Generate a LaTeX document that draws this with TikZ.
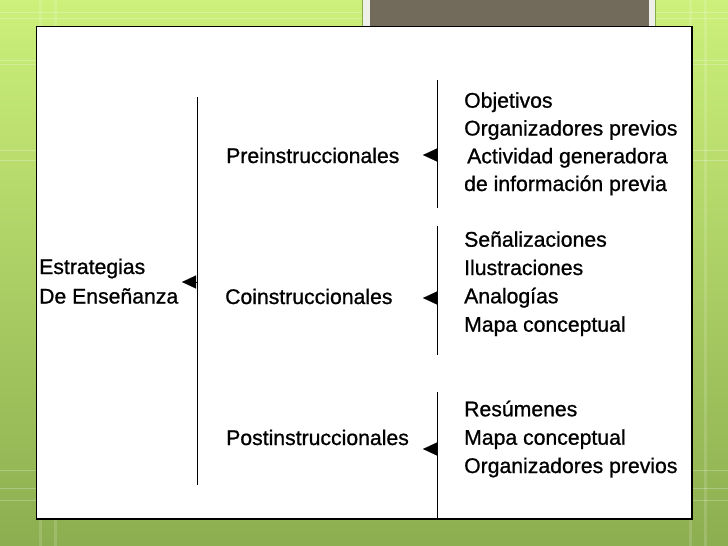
\documentclass[tikz,border=0pt]{standalone}
\usepackage{fontspec}
\setmainfont{Liberation Sans}
\newfontfamily\heavyfont[FakeBold=0.9]{Liberation Sans}
\usetikzlibrary{arrows.meta}
\definecolor{bgtop}{HTML}{CCF07A}
\definecolor{bgbot}{HTML}{8DAE50}
\definecolor{titlefill}{HTML}{726A5A}
\definecolor{titleframe}{HTML}{EFEFE9}
\definecolor{titleedge}{HTML}{86A94A}
\tikzset{
  lbl/.style={anchor=base west, inner sep=0pt, font=\heavyfont\fontsize{21.2}{24}\selectfont},
  bar/.style={line width=1.1pt, black},
  ptr/.style={-{Triangle[length=14pt,width=13pt]}, line width=0.1pt, black}
}
\begin{document}
\begin{tikzpicture}[x=1pt,y=-1pt]
\useasboundingbox (0,0) rectangle (728,546);
% background
\shade[top color=bgtop, bottom color=bgbot] (0,0) rectangle (728,546);
\foreach \yy in {12,18,60,64,150,160,470,488,500} {
  \draw[white, opacity=0.25, line width=0.8pt] (0,\yy) -- (728,\yy);
}
\foreach \xx in {40,55,690,705} {
  \draw[white, opacity=0.15, line width=3pt] (\xx,0) -- (\xx,546);
}
% title box
\draw[fill=titleframe, draw=titleedge, line width=0.6pt] (362,-1) rectangle (655,53);
\fill[titlefill] (370,-1) rectangle (649,48);
% main panel
\draw[fill=white, line width=1.4pt] (36.5,26.5) rectangle (692,519);
% bars
\draw[bar] (197.5,97) coordinate (l1) -- (197.5,485) coordinate (l2);
\draw[bar] (437.5,80) coordinate (r1) -- (437.5,208) coordinate (r2);
\draw[bar] (437.5,226) coordinate (r3) -- (437.5,355) coordinate (r4);
\draw[bar] (437.5,392) coordinate (r5) -- (437.5,519) coordinate (r6);
% labels
\node[lbl] (est1) at (39,274) {Estrategias};
\node[lbl] (est2) at (39,303.5) {De Enseñanza};
\node[lbl] (pre) at (226,163) {Preinstruccionales};
\node[lbl] (co) at (225,304) {Coinstruccionales};
\node[lbl] (post) at (226,445) {Postinstruccionales};
\node[lbl] (a1) at (464,107.7) {Objetivos};
\node[lbl] (a2) at (464,135.5) {Organizadores previos};
\node[lbl] (a3) at (467,163.3) {Actividad generadora};
\node[lbl] (a4) at (464,191) {de información previa};
\node[lbl] (b1) at (464,246.7) {Señalizaciones};
\node[lbl] (b2) at (464,275) {Ilustraciones};
\node[lbl] (b3) at (464,303.3) {Analogías};
\node[lbl] (b4) at (464,331.7) {Mapa conceptual};
\node[lbl] (c1) at (464,416.3) {Resúmenes};
\node[lbl] (c2) at (464,444.7) {Mapa conceptual};
\node[lbl] (c3) at (464,473) {Organizadores previos};
% pointers
\coordinate (s0) at (197,282); \coordinate (t0) at (182,282);
\coordinate (s1) at (437,155); \coordinate (t1) at (423,155);
\coordinate (s2) at (437,298); \coordinate (t2) at (423,298);
\coordinate (s3) at (437,449); \coordinate (t3) at (423,449);
\draw[ptr] (s0) -- (t0);
\draw[ptr] (s1) -- (t1);
\draw[ptr] (s2) -- (t2);
\draw[ptr] (s3) -- (t3);
\end{tikzpicture}
\end{document}
